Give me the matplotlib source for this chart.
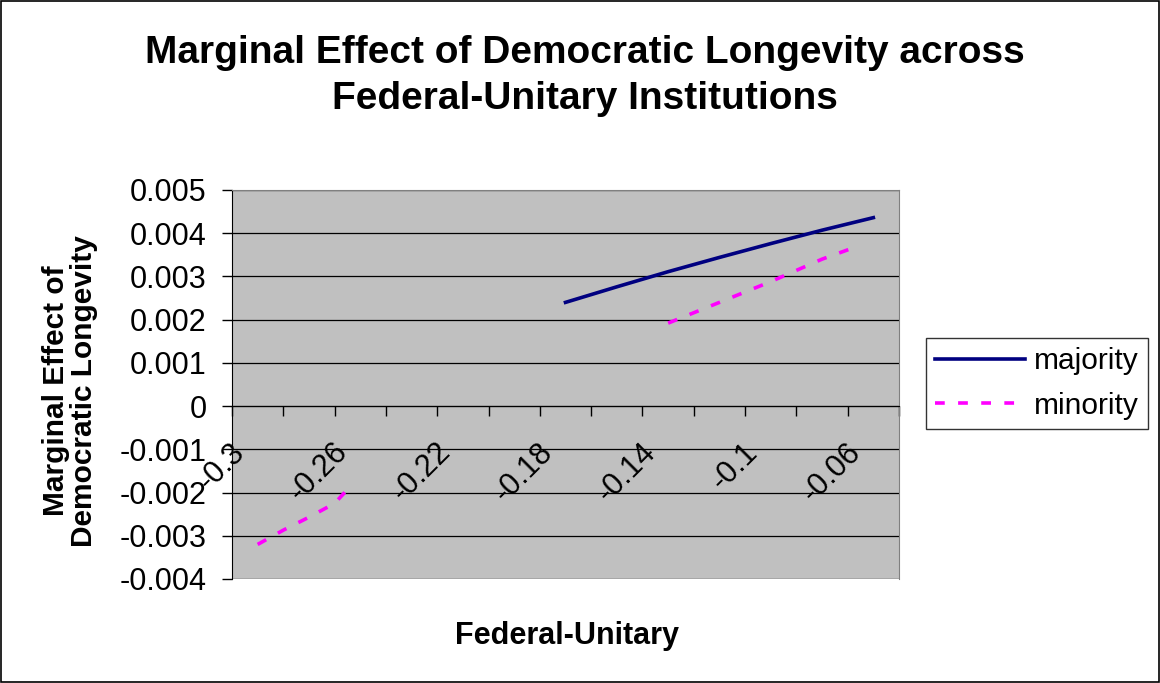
import matplotlib
matplotlib.use("Agg")
from matplotlib import pyplot as plt
from matplotlib.patches import Rectangle
import matplotlib.transforms as mtransforms
import numpy as np

# values (Excel chart)
majority_x = [-0.17, -0.15, -0.13, -0.11, -0.09, -0.07, -0.05]
majority_y = [0.00240, 0.00276, 0.00311, 0.00344, 0.00376, 0.00407, 0.00436]

minority_x = [-0.29, -0.28, -0.27, -0.26, -0.255, np.nan,
              -0.13, -0.11, -0.09, -0.07, -0.057]
minority_y = [-0.00320, -0.00287, -0.00257, -0.00225, -0.00193, np.nan,
              0.00192, 0.00240, 0.00288, 0.00340, 0.00368]

x_ticks = np.round(np.arange(-0.30, -0.0399, 0.02), 2)
x_labels = ["-0.3", "-0.26", "-0.22", "-0.18", "-0.14", "-0.1", "-0.06"]
y_ticks = np.round(np.arange(-0.004, 0.0051, 0.001), 3)

plt.rcParams["font.family"] = ["Liberation Sans", "DejaVu Sans"]

fig = plt.figure(figsize=(11.6, 6.83), dpi=100)
ax = fig.add_axes([232 / 1160, 104 / 683, 667 / 1160, 389 / 683])
ax.set_facecolor("#C0C0C0")

ax.plot(majority_x, majority_y, color="#000080", lw=2.6, label="majority")
ax.plot(minority_x, minority_y, color="#FF00FF", lw=2.6, label="minority",
        linestyle=(0, (2.7, 3.7)))

ax.set_xlim(-0.30, -0.04)
ax.set_ylim(-0.004, 0.005)

# horizontal gridlines only
ax.set_yticks(y_ticks)
ax.set_yticklabels(["0" if v == 0 else f"{v:g}" for v in y_ticks])
ax.yaxis.grid(True, color="black", lw=0.9)
ax.set_axisbelow(True)

# x axis crossing at zero, labels on every other tick
ax.spines["bottom"].set_position(("data", 0))
ax.spines["bottom"].set_color("black")
ax.spines["left"].set_color("black")
for s in ("top", "right"):
    ax.spines[s].set_color("#808080")
ax.set_xticks(x_ticks)
labels = []
for v in x_ticks:
    lab = f"{v:g}"
    labels.append(lab if lab in x_labels else "")
ax.set_xticklabels(labels, rotation=45, ha="right", va="top")
ax.tick_params(axis="x", direction="out", length=7.2, width=1, pad=15, labelsize=22)
ax.tick_params(axis="y", direction="out", length=7.2, width=1, pad=11, labelsize=22)
offset = mtransforms.ScaledTranslation(19 / 100, 0, fig.dpi_scale_trans)
for lab in ax.get_xticklabels():
    lab.set_transform(lab.get_transform() + offset)

# outer chart border
fig.patches.append(Rectangle((0.001, 0.001), 0.998, 0.997, transform=fig.transFigure,
                             fill=False, edgecolor="black", lw=1.2))

fig.text(585 / 1160, 1 - 53 / 683, "Marginal Effect of Democratic Longevity across",
         ha="center", va="center", fontsize=28, fontweight="bold")
fig.text(585 / 1160, 1 - 99 / 683, "Federal-Unitary Institutions",
         ha="center", va="center", fontsize=28, fontweight="bold")
fig.text(56 / 1160, 1 - 391 / 683, "Marginal Effect of", rotation=90,
         ha="center", va="center", fontsize=21.5, fontweight="bold")
fig.text(84 / 1160, 1 - 391 / 683, "Democratic Longevity", rotation=90,
         ha="center", va="center", fontsize=21.5, fontweight="bold")
fig.text(567 / 1160, 1 - 636 / 683, "Federal-Unitary", ha="center", va="center",
         fontsize=22, fontweight="bold")

leg = fig.legend(loc="center", bbox_to_anchor=(1037 / 1160, 1 - 383.5 / 683),
                 fontsize=21.5, frameon=True, fancybox=False, handlelength=3.0,
                 borderpad=0.3, labelspacing=0.55, handletextpad=0.3,
                 borderaxespad=0)
leg.get_frame().set_edgecolor("black")
leg.get_frame().set_linewidth(1)
for t in leg.get_texts():
    t.set_x(0)

fig.savefig("out.png", dpi=100)
